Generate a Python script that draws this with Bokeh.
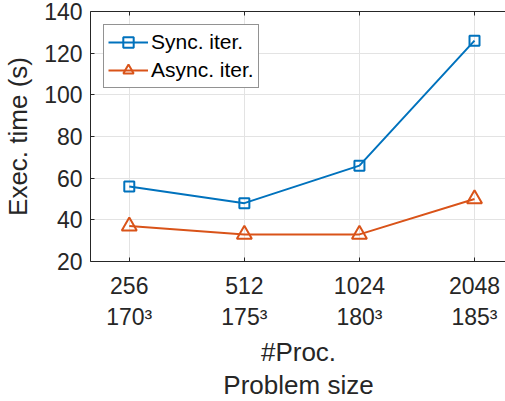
from bokeh.plotting import figure
from bokeh.models import Range1d, FixedTicker, LinearAxis, Legend, LegendItem
from bokeh.embed import file_html
from bokeh.resources import INLINE

procs = ["256", "512", "1024", "2048"]
problem_sizes = ["170³", "175³", "180³", "185³"]
sync_time = [56, 48, 66, 126]
async_time = [37, 33, 33, 50]
y_ticks = [20, 40, 60, 80, 100, 120, 140]

xs = list(range(1, len(procs) + 1))
FONT = "Liberation Sans"
TXT = "#262626"
BLUE = "#0072BD"
ORANGE = "#D95319"

p = figure(frame_width=416, frame_height=250, output_backend="svg",
           toolbar_location=None, x_range=Range1d(0.663, 4.278),
           y_range=Range1d(20, 140),
           min_border_left=89, min_border_right=0, min_border_top=11,
           min_border_bottom=140, outline_line_color=None,
           background_fill_color="white", border_fill_color="white")

r1 = p.line(xs, sync_time, line_color=BLUE, line_width=2)
s1 = p.scatter(xs, sync_time, marker="square", size=10, fill_color=None,
               line_color=BLUE, line_width=2)
r2 = p.line(xs, async_time, line_color=ORANGE, line_width=2)
s2 = p.scatter(xs, async_time, marker="triangle", size=15, fill_color=None,
               line_color=ORANGE, line_width=2)

for ax in (p.xaxis[0], p.yaxis[0]):
    ax.axis_line_color = TXT
    ax.axis_line_width = 1
    ax.major_tick_line_color = TXT
    ax.major_tick_in = 4
    ax.major_tick_out = 0
    ax.minor_tick_line_color = None
    ax.major_label_text_font = FONT
    ax.major_label_text_font_size = "23px"
    ax.major_label_text_color = TXT
    ax.axis_label_text_font = FONT
    ax.axis_label_text_font_size = "26px"
    ax.axis_label_text_font_style = "normal"
    ax.axis_label_text_color = TXT

p.xaxis.ticker = FixedTicker(ticks=xs)
p.xaxis.major_label_overrides = {x: f"{a}\n{b}" for x, a, b in zip(xs, procs, problem_sizes)}
p.xaxis.major_label_text_line_height = 1.23
p.xaxis.major_label_standoff = 11
p.xaxis.axis_label = "#Proc.\nProblem size"
p.xaxis.axis_label_text_line_height = 1.1
p.xaxis.axis_label_standoff = 4

p.yaxis.ticker = FixedTicker(ticks=y_ticks)
p.yaxis.major_label_standoff = 8
p.yaxis.axis_label = "Exec. time (s)"
p.yaxis.axis_label_standoff = 8

top = LinearAxis(ticker=FixedTicker(ticks=xs),
                 major_label_overrides={x: "" for x in xs},
                 axis_line_color=TXT, major_tick_line_color=TXT,
                 major_tick_in=4, major_tick_out=0, minor_tick_line_color=None,
                 major_label_standoff=0)
p.add_layout(top, "above")

p.grid.grid_line_color = "#e3e3e3"
p.grid.grid_line_width = 1
p.xgrid.ticker = FixedTicker(ticks=xs)
p.ygrid.ticker = FixedTicker(ticks=y_ticks)

legend = Legend(items=[LegendItem(label="Sync. iter.", renderers=[r1, s1]),
                       LegendItem(label="Async. iter.", renderers=[r2, s2])],
                location="top_left", margin=13, padding=4, spacing=2,
                glyph_width=40, glyph_height=26, label_standoff=3,
                label_text_font=FONT, label_text_font_size="21px",
                label_text_color="black", border_line_color=TXT,
                border_line_width=1, background_fill_alpha=1)
p.add_layout(legend)

open("out.html", "w").write(file_html(p, INLINE))
